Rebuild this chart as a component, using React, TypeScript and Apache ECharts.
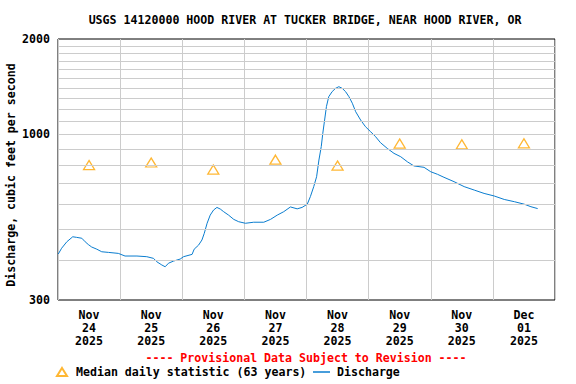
import React, { useEffect, useRef } from 'react';
import * as echarts from 'echarts';

const TITLE = 'USGS 14120000 HOOD RIVER AT TUCKER BRIDGE, NEAR HOOD RIVER, OR';
const Y_NAME = 'Discharge, cubic feet per second';
const PROVISIONAL = '---- Provisional Data Subject to Revision ----';
const MEDIAN_NAME = 'Median daily statistic (63 years)';
const DISCHARGE_NAME = 'Discharge';

const dayLabels = [
  'Nov\n24\n2025', 'Nov\n25\n2025', 'Nov\n26\n2025', 'Nov\n27\n2025',
  'Nov\n28\n2025', 'Nov\n29\n2025', 'Nov\n30\n2025', 'Dec\n01\n2025',
];
const yTickLabels = [300, 1000, 2000];
const yGridValues = [400, 500, 600, 700, 800, 900, 1000, 1100, 1200, 1300, 1400, 1500, 1600, 1700, 1800, 1900];

// hours since Nov 24 00:00
const medianHours = [12, 36, 60, 84, 108, 132, 156, 180];
const medianValues = [800, 815, 774, 832, 797, 935, 930, 937];

const dischargeHours = [
  0.1, 1.4, 3.4, 5.7, 7.2, 9.2, 10.5, 11.7, 13.0, 15.0, 16.9, 19.5, 23.3, 25.9, 30.5, 34.3,
  36.9, 38.2, 40.1, 41.4, 42.7, 44.6, 47.2, 48.5, 51.8, 52.6, 54.3, 55.6, 56.5, 57.6, 58.8,
  60.1, 61.4, 62.7, 64.0, 65.9, 67.9, 69.8, 72.4, 75.6, 79.5, 82.1, 84.7, 87.2, 89.8, 92.4,
  94.3, 96.3, 97.5, 98.8, 99.9, 100.8, 101.7, 102.3, 103.0, 103.7, 104.6, 105.9, 107.2, 108.5,
  109.8, 111.1, 112.4, 113.7, 115.0, 116.9, 118.8, 120.8, 122.7, 124.6, 127.2, 129.8, 132.4,
  135.0, 137.5, 141.4, 144.0, 146.6, 149.1, 153.0, 156.9, 160.8, 164.6, 168.5, 172.4, 176.3,
  180.1, 182.7, 185.3,
];
const dischargeValues = [
  419, 437, 458, 475, 473, 470, 458, 449, 441, 434, 426, 424, 421, 413, 413, 411,
  406, 396, 387, 382, 392, 398, 404, 411, 418, 434, 447, 464, 487, 524, 556,
  577, 588, 581, 570, 556, 539, 530, 524, 528, 528, 539, 556, 570, 590, 582,
  588, 602, 636, 684, 735, 830, 915, 1008, 1110, 1224, 1315, 1364, 1397, 1414,
  1397, 1364, 1315, 1254, 1179, 1110, 1057, 1019, 983, 941, 903, 871, 850,
  819, 795, 787, 762, 748, 732, 709, 684, 667, 651, 639, 623, 613,
  602, 591, 583,
];

const FONT = 'DejaVu Sans Mono';
const FS = 11.6;
const BLUE = '#0a7dcf';
const ORANGE = '#ffa500';

export default function App() {
  const ref = useRef<HTMLDivElement>(null);
  useEffect(() => {
    if (!ref.current) return;
    const chart = echarts.init(ref.current, undefined, { renderer: 'svg' });
    const textBase = { fontFamily: FONT, fontSize: FS, fontWeight: 'bold' as const, color: '#000' };
    chart.setOption({
      animation: false,
      backgroundColor: '#fff',
      grid: {
        left: 58, top: 39, width: 497, height: 261,
        show: true, borderColor: '#000', borderWidth: 1, backgroundColor: 'transparent',
      },
      xAxis: [
        {
          type: 'value', min: 0, max: 192, interval: 24,
          axisLine: { show: false }, axisTick: { show: false }, axisLabel: { show: false },
          splitLine: { show: true, lineStyle: { color: '#cccccc', width: 1 } },
        },
        {
          type: 'category', position: 'bottom', data: dayLabels, boundaryGap: true,
          axisLine: { show: false }, axisTick: { show: false }, splitLine: { show: false },
          axisLabel: { ...textBase, margin: 8, lineHeight: 13, interval: 0 },
        },
      ],
      yAxis: {
        type: 'log', logBase: 10, min: 300, max: 2000,
        axisLine: { show: false }, axisTick: { show: false },
        splitLine: { show: false }, minorSplitLine: { show: false },
        axisLabel: { ...textBase, margin: 8, customValues: yTickLabels, formatter: (v: number) => String(Math.round(v)) },
      },
      legend: [
        {
          data: [{ name: MEDIAN_NAME, icon: 'triangle' }],
          left: 56, top: 366, itemWidth: 10, itemHeight: 8, padding: 0,
          textStyle: { ...textBase, padding: [0, 0, 0, 4] },
        },
        {
          data: [{ name: DISCHARGE_NAME, icon: 'rect', itemStyle: { color: BLUE } }],
          left: 313, top: 366, itemWidth: 17, itemHeight: 1.5, padding: 0,
          textStyle: { ...textBase, padding: [0, 0, 0, 2] },
        },
      ],
      graphic: [
        { type: 'text', x: 305, y: 20, style: { text: TITLE, fill: '#000', font: `bold ${FS}px "${FONT}"`, textAlign: 'center', textVerticalAlign: 'middle' } },
        { type: 'text', x: 11, y: 175, rotation: Math.PI / 2, style: { text: Y_NAME, fill: '#000', font: `bold ${FS}px "${FONT}"`, textAlign: 'center', textVerticalAlign: 'middle' } },
        { type: 'text', x: 306, y: 358, style: { text: PROVISIONAL, fill: '#ff0000', font: `bold ${FS}px "${FONT}"`, textAlign: 'center', textVerticalAlign: 'middle' } },
      ],
      series: [
        {
          name: 'grid', type: 'line', data: [], z: 1, silent: true,
          markLine: {
            silent: true, symbol: ['none', 'none'], label: { show: false },
            lineStyle: { color: '#cccccc', type: 'solid', width: 1 },
            data: yGridValues.map((v) => ({ yAxis: v })),
          },
        },
        {
          name: DISCHARGE_NAME, type: 'line', z: 3, symbol: 'none',
          data: dischargeHours.map((h, i) => [h, dischargeValues[i]]),
          lineStyle: { color: BLUE, width: 1 }, itemStyle: { color: BLUE },
        },
        {
          name: MEDIAN_NAME, type: 'scatter', z: 4, symbol: 'triangle', symbolSize: [11, 9],
          data: medianHours.map((h, i) => [h, medianValues[i]]),
          itemStyle: { color: 'rgba(0,0,0,0)', borderColor: ORANGE, borderWidth: 1.3 },
        },
      ],
    });
    return () => chart.dispose();
  }, []);
  return <div ref={ref} style={{ width: 576, height: 384, position: 'absolute', left: 0, top: 0 }} />;
}
